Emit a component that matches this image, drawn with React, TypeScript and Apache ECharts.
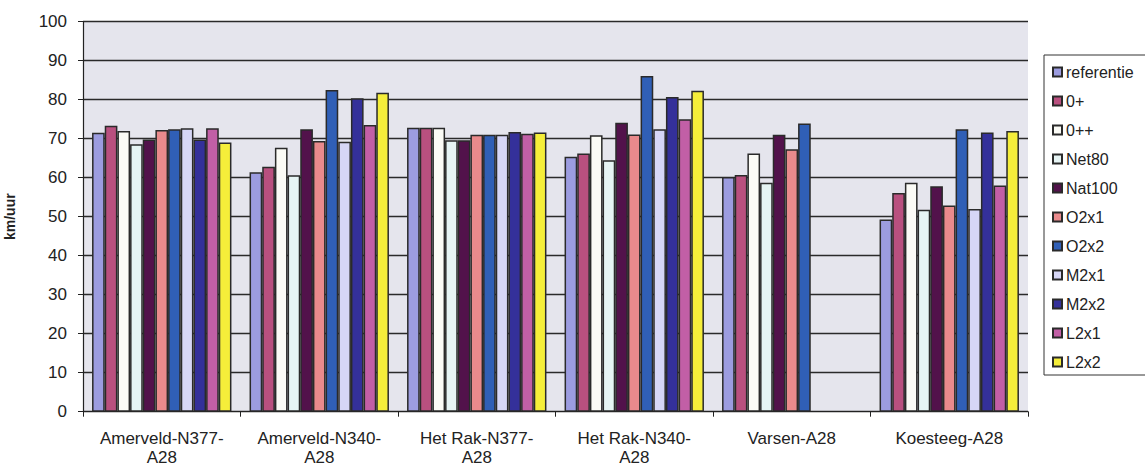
import React, { useEffect, useRef } from "react";
import * as echarts from "echarts";

const categories = [
  "Amerveld-N377-\nA28",
  "Amerveld-N340-\nA28",
  "Het Rak-N377-\nA28",
  "Het Rak-N340-\nA28",
  "Varsen-A28",
  "Koesteeg-A28",
];

const seriesNames = [
  "referentie", "0+", "0++", "Net80", "Nat100", "O2x1", "O2x2", "M2x1", "M2x2", "L2x1", "L2x2",
];

const referentie = [71.5, 61.4, 72.8, 65.4, 60.2, 49.3];
const nulPlus = [73.3, 62.8, 72.8, 66.2, 60.7, 56.1];
const nulPlusPlus = [72.0, 67.7, 72.8, 70.9, 66.2, 58.7];
const net80 = [68.6, 60.6, 69.6, 64.5, 58.7, 51.8];
const nat100 = [69.8, 72.4, 69.6, 74.1, 71.0, 57.8];
const o2x1 = [72.2, 69.4, 71.0, 71.1, 67.3, 52.9];
const o2x2 = [72.4, 82.5, 71.0, 86.1, 73.9, 72.4];
const m2x1 = [72.7, 69.2, 71.0, 72.4, null, 52.0];
const m2x2 = [69.8, 80.4, 71.7, 80.7, null, 71.6];
const l2x1 = [72.7, 73.5, 71.3, 75.0, null, 58.0];
const l2x2 = [69.0, 81.8, 71.6, 82.3, null, 72.0];

const seriesData = [referentie, nulPlus, nulPlusPlus, net80, nat100, o2x1, o2x2, m2x1, m2x2, l2x1, l2x2];

const colors = [
  "#9c9ce0", "#b9507f", "#fbfbf6", "#e6f4f4", "#52124b", "#e98a8c",
  "#305fb6", "#d6d6f6", "#34309a", "#c25fa6", "#f5ee3a",
];

const yTicks = [0, 10, 20, 30, 40, 50, 60, 70, 80, 90, 100];

export default function App() {
  const ref = useRef<HTMLDivElement>(null);
  useEffect(() => {
    document.body.style.margin = "0";
    const chart = echarts.init(ref.current!, null, { renderer: "svg" });
    const font = "'Liberation Sans', Arial, sans-serif";
    chart.setOption({
      animation: false,
      backgroundColor: "#ffffff",
      textStyle: { fontFamily: font },
      grid: {
        left: 83,
        right: 117,
        top: 21.7,
        bottom: 54.3,
        show: true,
        backgroundColor: "#e5e5ed",
        borderWidth: 0,
        containLabel: false,
        outerBoundsMode: "none",
      },
      legend: {
        orient: "vertical",
        left: 1044,
        top: 55,
        padding: [9, 40, 5, 8],
        borderColor: "#333",
        borderWidth: 1,
        backgroundColor: "#ffffff",
        itemGap: 13,
        itemWidth: 9,
        itemHeight: 9,
        icon: "rect",
        data: seriesNames,
        textStyle: { fontSize: 16, color: "#222", lineHeight: 16, fontFamily: font, padding: [0, 0, 0, -1] },
      },
      xAxis: {
        type: "category",
        data: categories,
        axisLine: { lineStyle: { color: "#222", width: 1.2 } },
        axisTick: { show: true, length: 5, lineStyle: { color: "#222" } },
        axisLabel: {
          color: "#222",
          fontSize: 17,
          lineHeight: 19,
          margin: 17,
          interval: 0,
          fontFamily: font,
        },
      },
      yAxis: {
        type: "value",
        min: 0,
        max: 100,
        interval: 10,
        name: "km/uur",
        nameLocation: "middle",
        nameGap: 66,
        nameTextStyle: { fontSize: 14, fontWeight: "bold", color: "#222", fontFamily: font },
        axisLine: { show: true, lineStyle: { color: "#222", width: 1.2 } },
        axisTick: { show: true, length: 5, lineStyle: { color: "#222" } },
        axisLabel: {
          color: "#222",
          fontSize: 17,
          margin: 16,
          fontFamily: font,
          formatter: (v: number) => (yTicks.includes(v) ? String(v) : ""),
        },
        splitLine: { show: true, lineStyle: { color: "#2a2a2a", width: 1.3 } },
      },
      series: seriesNames.map((name, i) => ({
        name,
        type: "bar",
        data: seriesData[i],
        barGap: "0%",
        barCategoryGap: "11.5%",
        itemStyle: { color: colors[i], borderColor: "#2a2a2a", borderWidth: 1.5 },
      })),
    });
    return () => chart.dispose();
  }, []);
  return <div ref={ref} style={{ width: 1145, height: 466 }} />;
}
